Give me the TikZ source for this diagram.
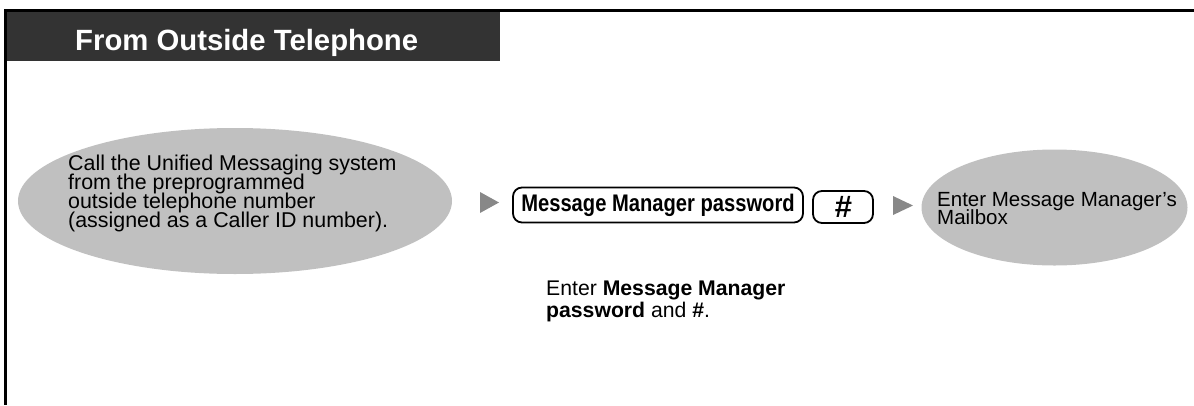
\documentclass[tikz,border=0pt]{standalone}
\usepackage{fontspec}
\setmainfont{Liberation Sans}
\newfontfamily\narrowfont[FakeStretch=0.84]{Liberation Sans}
\usetikzlibrary{shapes.geometric}
\definecolor{hdr}{HTML}{333333}
\definecolor{ellfill}{HTML}{C0C0C0}
\definecolor{arrowgray}{HTML}{888888}
\newcommand\mytightlines{\lineskiplimit=-50pt\relax\lineskip=0pt\relax}
\tikzset{
  ell/.style={ellipse, fill=ellfill, inner sep=0pt},
  bodytext/.style={inner sep=0pt, align=left, font=\fontsize{21.4}{19}\selectfont\mytightlines, anchor=base west},
  keybox/.style={draw=black, line width=1.8pt, rounded corners=9pt, inner sep=0pt, font=\narrowfont\bfseries\fontsize{24}{24}\selectfont},
  tri/.style={fill=arrowgray},
}
\begin{document}
\begin{tikzpicture}[x=1pt,y=-1pt]
\useasboundingbox (0,0) rectangle (1194,405);
% frame
\fill[hdr] (4,10) rectangle (500,61);
\draw[line width=2.5pt] (4,10.3) -- (1194,10.3);
\draw[line width=3pt] (5,10) -- (5,405);
\node[anchor=base west, inner sep=0pt, text=white, font=\bfseries\fontsize{29.3}{29.3}\selectfont] (title) at (75,50) {From Outside Telephone};
% left ellipse
\node[ell, minimum width=434pt, minimum height=146pt] (e1) at (235,201) {};
\node[bodytext] (t1) at (68,227) {Call the Unified Messaging system\\from the preprogrammed\\outside telephone number\\(assigned as a Caller ID number).};
% arrow 1
\fill[tri] (480,192) -- (499,202.5) -- (480,213) -- cycle;
% key boxes
\node[keybox, minimum width=290pt, minimum height=35pt] (k1) at (658,205) {Message Manager password};
\node[keybox, minimum width=60pt, minimum height=32pt] (k2) at (843,207) {};
\node[anchor=base, inner sep=0pt, font=\bfseries\fontsize{31}{31}\selectfont] (hash) at (843.5,217) {\#};
% arrow 2
\fill[tri] (893,196) -- (913,205.5) -- (893,215) -- cycle;
% right ellipse
\node[ell, minimum width=266pt, minimum height=116pt] (e2) at (1054.5,207.5) {};
\node[bodytext, font=\fontsize{20.5}{18}\selectfont\mytightlines] (t2) at (937,224) {Enter Message Manager’s\\Mailbox};
% bottom note
\node[bodytext, font=\fontsize{21.2}{22.5}\selectfont] (t3) at (546,317.5) {Enter \textbf{Message Manager}\\\textbf{password} and \textbf{\#}.};
\end{tikzpicture}
\end{document}
